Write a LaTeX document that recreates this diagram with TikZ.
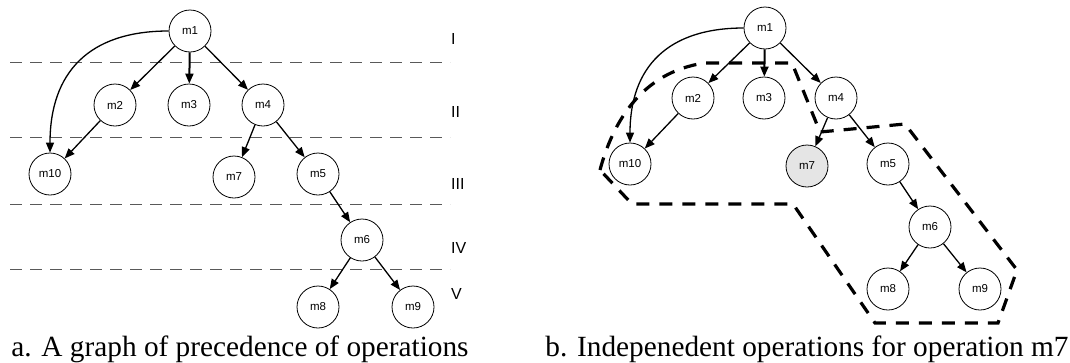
\documentclass[tikz,border=0pt]{standalone}
\usepackage{fontspec}
\setmainfont{Liberation Serif}
\newfontfamily\nodefont{Liberation Sans}
\usetikzlibrary{arrows.meta}
\begin{document}
\begin{tikzpicture}[x=1pt,y=-1pt,
  op/.style={circle,draw,line width=0.8pt,minimum size=42pt,inner sep=0pt,font={\nodefont\fontsize{11.5}{12}\selectfont}},
  arr/.style={-{Triangle[length=10pt,width=8pt]},line width=1.3pt},
  arrthick/.style={arr,line width=2pt},
  lvl/.style={draw=black!65,line width=1pt,dash pattern=on 12pt off 8pt},
  lvllab/.style={anchor=west,inner sep=0pt,font={\nodefont\fontsize{16}{18}\selectfont}},
  captext/.style={anchor=base,inner sep=0pt,font={\fontsize{29.3}{32}\selectfont}},
  grp/.style={line width=3.2pt,dash pattern=on 13pt off 10pt,line join=miter}]
\useasboundingbox (0,0) rectangle (1070,362);

% ---------- left: levels ----------
\draw[lvl] (10,62) -- (450,62);
\draw[lvl] (10,137) -- (450,137);
\draw[lvl] (10,204) -- (450,204);
\draw[lvl] (10,269) -- (450,269);
\node[lvllab] (l1) at (451,39) {I};
\node[lvllab] (l2) at (451,112) {II};
\node[lvllab] (l3) at (451,184) {III};
\node[lvllab] (l4) at (451,248) {IV};
\node[lvllab] (l5) at (451,294) {V};

% ---------- left graph ----------
\node[op] (a1) at (190,31) {m1};
\node[op] (a2) at (115,105) {m2};
\node[op] (a3) at (189,105) {m3};
\node[op] (a4) at (263,105) {m4};
\node[op] (a10) at (50,174) {m10};
\node[op] (a7) at (234,177) {m7};
\node[op] (a5) at (318,174) {m5};
\node[op] (a6) at (362,240) {m6};
\node[op] (a8) at (318,307) {m8};
\node[op] (a9) at (413,307) {m9};

\draw[arr] (a1.west) to[out=180,in=90,looseness=1.2] (a10.north);
\draw[arr] (a1) -- (a2);
\draw[arrthick] (a1) -- (a3);
\draw[arr] (a1) -- (a4);
\draw[arr] (a2) -- (a10);
\draw[arr] (a4) -- (a7);
\draw[arr] (a4) -- (a5);
\draw[arr] (a5) -- (a6);
\draw[arr] (a6) -- (a8);
\draw[arr] (a6) -- (a9);

% ---------- right graph ----------
\node[op] (b1) at (765,28) {m1};
\node[op] (b2) at (693,98) {m2};
\node[op] (b3) at (764,98) {m3};
\node[op] (b4) at (836,98) {m4};
\node[op] (b10) at (630,164) {m10};
\node[op,fill=black!10] (b7) at (807,166) {m7};
\node[op] (b5) at (888,164) {m5};
\node[op] (b6) at (930,227) {m6};
\node[op] (b8) at (888,289) {m8};
\node[op] (b9) at (980,289) {m9};

\draw[arr] (b1.west) to[out=180,in=90,looseness=1.2] (b10.north);
\draw[arr] (b1) -- (b2);
\draw[arrthick] (b1) -- (b3);
\draw[arr] (b1) -- (b4);
\draw[arr] (b2) -- (b10);
\draw[arr] (b4) -- (b7);
\draw[arr] (b4) -- (b5);
\draw[arr] (b5) -- (b6);
\draw[arr] (b6) -- (b8);
\draw[arr] (b6) -- (b9);

% independent-operations region
\draw[grp] (600,170) .. controls (612,125) and (640,72) .. (705,63)
  -- (792,63) -- (820,132) -- (905,124) -- (1017,270) -- (998,323)
  -- (875,323) -- (793,204) -- (632,204) -- cycle;

% ---------- captions ----------
\node[captext] (ca) at (240,356) {a. A graph of precedence of operations};
\node[captext] (cb) at (807,356) {b. Indepenedent operations for operation m7};
\end{tikzpicture}
\end{document}
